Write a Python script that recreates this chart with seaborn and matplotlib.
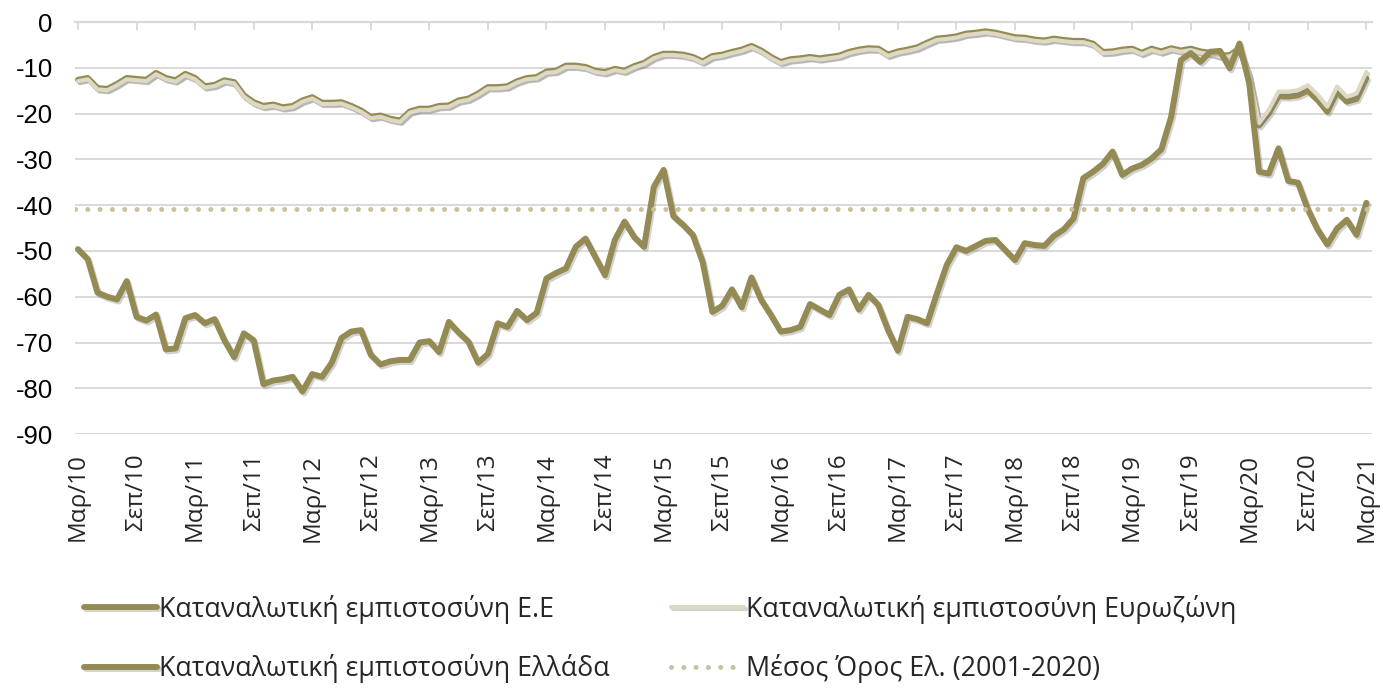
import matplotlib
matplotlib.use("Agg")
import matplotlib.pyplot as plt
import matplotlib.patheffects as pe
import pandas as pd
import seaborn as sns

# Monthly consumer confidence, Mar 2010 - Mar 2021
greece = [
    -49.6, -51.8, -59.1, -60.0, -60.6, -56.6, -64.4, -65.2, -63.9, -71.5,
    -71.3, -64.7, -64.0, -65.8, -64.9, -69.5, -73.2, -68.0, -69.5, -79.1,
    -78.3, -78.0, -77.5, -80.7, -76.9, -77.5, -74.4, -69.0, -67.6, -67.3,
    -72.7, -74.8, -74.1, -73.8, -73.8, -70.0, -69.7, -72.1, -65.5, -67.8,
    -69.8, -74.4, -72.5, -65.8, -66.6, -63.1, -65.1, -63.5, -56.0, -54.8,
    -53.8, -49.1, -47.3, -51.3, -55.3, -47.6, -43.6, -47.0, -49.1, -36.0,
    -32.3, -42.4, -44.3, -46.5, -52.4, -63.3, -62.0, -58.4, -62.3, -55.8,
    -60.7, -64.0, -67.6, -67.3, -66.6, -61.6, -62.8, -64.0, -59.6, -58.4,
    -62.8, -59.6, -61.8, -67.3, -71.8, -64.4, -64.9, -65.8, -59.3, -53.1,
    -49.2, -50.0, -48.9, -47.8, -47.6, -49.8, -52.0, -48.3, -48.7, -48.9,
    -46.7, -45.3, -42.9, -34.1, -32.7, -31.0, -28.3, -33.4, -32.0, -31.2,
    -29.8, -27.8, -20.7, -8.3, -6.8, -8.7, -6.5, -6.3, -10.1, -4.7,
    -13.4, -32.7, -33.1, -27.6, -34.7, -35.1, -40.9, -45.3, -48.6, -45.1,
    -43.2, -46.5, -39.5,
]

eurozone = [
    -12.9, -12.5, -14.7, -14.9, -13.8, -12.5, -12.7, -12.9, -11.4, -12.5,
    -13.0, -11.6, -12.5, -14.3, -14.0, -13.0, -13.4, -16.3, -17.8, -18.6,
    -18.3, -18.9, -18.6, -17.4, -16.7, -17.9, -17.9, -17.8, -18.6, -19.6,
    -21.0, -20.7, -21.4, -21.8, -19.8, -19.2, -19.2, -18.6, -18.5, -17.4,
    -17.0, -15.9, -14.5, -14.5, -14.3, -13.2, -12.5, -12.3, -11.1, -10.9,
    -9.8, -9.8, -10.1, -10.9, -11.2, -10.5, -10.9, -9.9, -9.2, -7.9,
    -7.2, -7.2, -7.4, -7.9, -8.9, -7.7, -7.4, -6.8, -6.3, -5.5,
    -6.5, -7.9, -9.0, -8.4, -8.2, -7.9, -8.2, -7.9, -7.6, -6.8,
    -6.3, -6.0, -6.1, -7.4, -6.7, -6.3, -5.8, -4.8, -3.9, -3.7,
    -3.4, -2.8, -2.6, -2.3, -2.6, -3.1, -3.6, -3.7, -4.1, -4.3,
    -3.9, -4.2, -4.4, -4.4, -5.0, -6.8, -6.7, -6.3, -6.1, -7.0,
    -6.1, -6.7, -6.0, -6.5, -6.1, -6.7, -7.0, -7.6, -7.5, -6.0,
    -11.2, -22.1, -19.2, -15.2, -15.2, -14.9, -13.8, -15.9, -18.5, -14.1,
    -16.3, -15.6, -10.9,
]

eu = [
    -12.6, -12.2, -14.4, -14.6, -13.5, -12.2, -12.4, -12.6, -11.1, -12.2,
    -12.7, -11.3, -12.2, -14.0, -13.7, -12.7, -13.1, -16.0, -17.5, -18.3,
    -18.0, -18.6, -18.3, -17.1, -16.4, -17.6, -17.6, -17.5, -18.3, -19.3,
    -20.7, -20.4, -21.1, -21.5, -19.5, -18.9, -18.9, -18.3, -18.2, -17.1,
    -16.7, -15.6, -14.2, -14.2, -14.0, -12.9, -12.2, -12.0, -10.8, -10.6,
    -9.5, -9.5, -9.8, -10.6, -10.9, -10.2, -10.6, -9.6, -8.9, -7.6,
    -6.9, -6.9, -7.1, -7.6, -8.6, -7.4, -7.1, -6.5, -6.0, -5.2,
    -6.2, -7.6, -8.7, -8.1, -7.9, -7.6, -7.9, -7.6, -7.3, -6.5,
    -6.0, -5.7, -5.8, -7.1, -6.4, -6.0, -5.5, -4.5, -3.6, -3.4,
    -3.1, -2.5, -2.3, -2.0, -2.3, -2.8, -3.3, -3.4, -3.8, -4.0,
    -3.6, -3.9, -4.1, -4.1, -4.7, -6.5, -6.4, -6.0, -5.8, -6.7,
    -5.8, -6.4, -5.7, -6.2, -5.8, -6.4, -6.7, -7.3, -7.2, -5.8,
    -12.0, -22.6, -20.0, -16.2, -16.3, -16.0, -15.0, -17.0, -19.6, -15.3,
    -17.4, -16.8, -12.3,
]

greece_mean = -40.8

tick_labels = [
    "Μαρ/10", "Σεπ/10", "Μαρ/11", "Σεπ/11", "Μαρ/12", "Σεπ/12",
    "Μαρ/13", "Σεπ/13", "Μαρ/14", "Σεπ/14", "Μαρ/15", "Σεπ/15",
    "Μαρ/16", "Σεπ/16", "Μαρ/17", "Σεπ/17", "Μαρ/18", "Σεπ/18",
    "Μαρ/19", "Σεπ/19", "Μαρ/20", "Σεπ/20", "Μαρ/21",
]

label_eu = "Καταναλωτική εμπιστοσύνη Ε.Ε"
label_ez = "Καταναλωτική εμπιστοσύνη Ευρωζώνη"
label_gr = "Καταναλωτική εμπιστοσύνη Ελλάδα"
label_mean = "Μέσος Όρος Ελ. (2001-2020)"

DARK = "#948A54"
BEIGE = "#DDD9C3"
DOT = "#C9C29F"
GRID = "#D9D9D9"

sns.set_style("white")
plt.rcParams["font.family"] = ["Open Sans", "DejaVu Sans"]

df = pd.DataFrame({
    "month": range(len(greece)),
    "eu": eu,
    "ez": eurozone,
    "gr": greece,
})

fig = plt.figure(figsize=(13.83, 6.89), dpi=100)
ax = fig.add_axes([0.0542, 0.370, 0.938, 0.598])

shadow = [pe.SimpleLineShadow(offset=(1.2, -1.5), shadow_color="#808080", alpha=0.35), pe.Normal()]

sns.lineplot(data=df, x="month", y="eu", color=DARK, lw=4.2, ax=ax, zorder=3)
sns.lineplot(data=df, x="month", y="ez", color=BEIGE, lw=3.0, ax=ax, zorder=4)
sns.lineplot(data=df, x="month", y="gr", color=DARK, lw=4.3, ax=ax, zorder=5)
for ln in ax.lines:
    ln.set_path_effects(shadow)
    ln.set_solid_joinstyle("round")

mean_line = ax.axhline(greece_mean, color=DOT, lw=3.6, linestyle=(0, (0.01, 2.45)),
                       dash_capstyle="round", zorder=6)

# axes cosmetics
ax.set_xlim(-0.31, 132.6)
ax.set_ylim(-90, 0)
ax.set_yticks(range(-90, 1, 10))
ax.set_yticklabels([str(v) for v in range(-90, 1, 10)], family="Liberation Sans", fontsize=18.5)
ax.set_xticks(range(0, len(greece), 6))
ax.set_xticklabels(tick_labels, rotation=90, fontsize=17.5)
ax.set_xlabel("")
ax.set_ylabel("")
ax.grid(axis="y", color=GRID, lw=1.4)
ax.set_axisbelow(True)
for side in ["left", "right", "bottom"]:
    ax.spines[side].set_visible(False)
ax.spines["top"].set_color(GRID)
ax.spines["top"].set_linewidth(1.6)
ax.tick_params(axis="y", length=0, pad=16, colors="black")
ax.tick_params(axis="x", bottom=False, top=True, labelbottom=True, labeltop=False,
               direction="in", length=6, width=1.4, color=GRID, pad=14)

handles = [ax.lines[0], ax.lines[2], ax.lines[1], mean_line]
labels = [label_eu, label_gr, label_ez, label_mean]
fig.legend(handles, labels, ncol=2, loc="upper left", bbox_to_anchor=(0.0607, 0.137),
           frameon=False, fontsize=19.3, handlelength=2.72, handletextpad=0.08,
           columnspacing=2.3, labelspacing=1.15, borderpad=0, borderaxespad=0)

fig.savefig("out.png", dpi=100)
